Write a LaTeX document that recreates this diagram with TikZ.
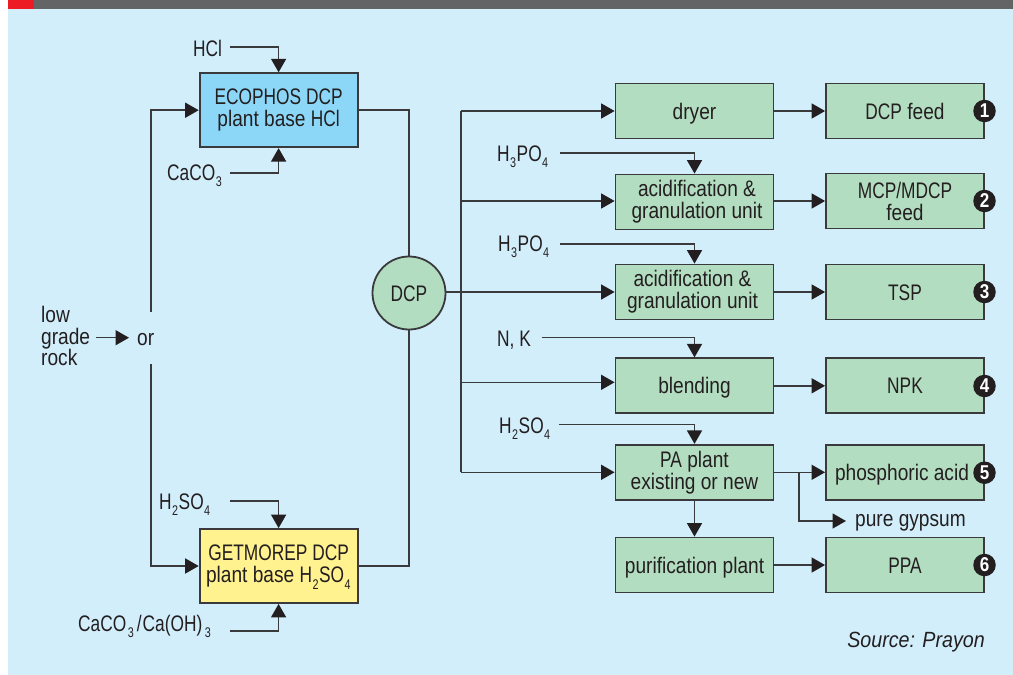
\documentclass[tikz,border=0pt]{standalone}
\usepackage{fontspec}
\setmainfont[FakeStretch=0.85]{Liberation Sans}
\newfontfamily\capsf[FakeStretch=0.77]{Liberation Sans}
\newfontfamily\srcf[FakeStretch=0.895]{Liberation Sans}
\usetikzlibrary{arrows.meta,calc}
\definecolor{bgblue}{HTML}{D2EEFB}
\definecolor{barGrey}{HTML}{636466}
\definecolor{barRed}{HTML}{ED1C24}
\definecolor{boxGreen}{HTML}{B3DDC0}
\definecolor{boxBlue}{HTML}{8CD7F8}
\definecolor{boxYellow}{HTML}{FFF28F}
\definecolor{ink}{HTML}{231F20}
\definecolor{edge}{HTML}{3A3A3C}
\newcommand{\sbs}[1]{\raisebox{-6.5pt}[0pt][0pt]{\fontsize{14}{14}\selectfont\kern0.5pt #1\kern0.5pt}}
\newcommand{\U}[1]{{\capsf #1}}
\tikzset{
  x=1pt,y=-1pt,
  every node/.style={font=\fontsize{22.5}{22}\selectfont,text=ink,inner sep=0pt},
  proc/.style={draw=edge,line width=1.8pt,minimum width=158pt,minimum height=55pt,align=center,fill=boxGreen,anchor=center},
  oneline/.style={proc,text height=16pt,text depth=0pt},
  plantbox/.style={proc,minimum height=74pt},
  badge/.style={circle,fill=ink,minimum size=22.5pt,font=\fontsize{20}{20}\bfseries\selectfont,text=white},
  lbl/.style={anchor=base west},
  conn/.style={draw=edge,line width=1.5pt},
  arr/.style={conn,-{Triangle[length=13.5pt,width=15pt,color=ink]}},
}
\begin{document}
\begin{tikzpicture}
\useasboundingbox (0,0) rectangle (1013,675);
\fill[white] (0,0) rectangle (1013,675);
\fill[bgblue] (8,9) rectangle (1013,675);
\fill[barGrey] (34,0) rectangle (1013,9);
\fill[barRed] (8,0) rectangle (34,9);

% plants
\node[plantbox,fill=boxBlue] (eco) at (278.6,110.2) {\U{ECOPHOS DCP}\\plant base \U{HCl}};
\node[plantbox,fill=boxYellow] (get) at (278.6,566) {\U{GETMOREP DCP}\\plant base \U{H\sbs{2}SO\sbs{4}}};
\node[circle,draw=edge,line width=1.8pt,fill=boxGreen,minimum size=73pt,text height=16pt,text depth=0pt] (dcp) at (409,293) {\U{DCP}};

% first column
\node[oneline] (dryer) at (694.5,111) {dryer};
\node[proc] (acidA) at (694.5,202) {\hspace*{5pt}acidification \&\\\hspace*{5pt}granulation unit};
\node[proc] (acidB) at (694.5,292) {acidification \&\hspace*{4pt}\\granulation unit\hspace*{4pt}};
\node[oneline] (blend) at (694.5,385.8) {blending};
\node[proc] (pa) at (694.5,472.3) {\U{PA} plant\\existing or new};
\node[oneline] (puri) at (694.5,565) {purification plant};

% second column
\node[oneline] (dfeed) at (905,111) {\U{DCP} feed};
\node[proc] (mfeed) at (905,201) {\U{MCP/MDCP}\\feed};
\node[oneline] (tsp) at (905,292) {\U{TSP}};
\node[oneline] (npk) at (905,385.8) {\U{NPK}};
\node[oneline] (phos) at (905,472.3) {\hspace*{-6pt}phosphoric acid};
\node[oneline] (ppa) at (905,565) {\U{PPA}};

% badges
\node[badge] (b1) at (984.5,111) {1};
\node[badge] (b2) at (984.5,201) {2};
\node[badge] (b3) at (984.5,292) {3};
\node[badge] (b4) at (984.5,386) {4};
\node[badge] (b5) at (984.5,472.7) {5};
\node[badge] (b6) at (984.5,565) {6};

% labels
\node[lbl] (hcl) at (193,56) {\U{HCl}};
\node[lbl] (caco) at (167,180) {\U{CaCO\sbs{3}}};
\node[lbl] (hso) at (159,509) {\U{H\sbs{2}SO\sbs{4}}};
\node[lbl] (cacoh) at (78,631) {\U{CaCO\kern1pt\sbs{3}\kern2.5pt/\kern1pt Ca(OH)\kern2pt\sbs{3}}};
\node[lbl] (rockA) at (41,322) {low};
\node[lbl] (rockB) at (41,344) {grade};
\node[lbl] (rockC) at (41,365) {rock};
\node[lbl] (or) at (137,345) {or};
\node[lbl] (hpa) at (497,161) {\U{H\sbs{3}PO\sbs{4}}};
\node[lbl] (hpb) at (498,251) {\U{H\sbs{3}PO\sbs{4}}};
\node[lbl] (nk) at (497,346) {\U{N, K}};
\node[lbl] (hsb) at (499,433) {\U{H\sbs{2}SO\sbs{4}}};
\node[lbl] (gyp) at (855,526) {pure gypsum};
\node[anchor=base east,font=\fontsize{22}{22}\srcf\itshape\selectfont] (src) at (985,647) {Source: Prayon};

% free ends
\coordinate (cHcl) at (230,47);
\coordinate (cCaco) at (230,173);
\coordinate (cHso) at (230,501);
\coordinate (cCacoh) at (230,631);
\coordinate (cHpa) at (560,153);
\coordinate (cHpb) at (560,244);
\coordinate (cNk) at (541.5,337.5);
\coordinate (cHsb) at (559,424.7);
\coordinate (cRock) at (96,337.7);
\coordinate (cOr) at (129,337.7);
\coordinate (cUp) at (151,312);
\coordinate (cDown) at (151,364);
\coordinate (busT) at (461,111);
\coordinate (busA) at (461,201);
\coordinate (busB) at (461,382.3);
\coordinate (busC) at (461,472.3);
\coordinate (split) at (799,472.3);
\coordinate (gypEnd) at (846,521);

% inputs to plants
\draw[arr] (cHcl) -| (eco.north);
\draw[arr] (cCaco) -| (eco.south);
\draw[arr] (cHso) -| (get.north);
\draw[arr] (cCacoh) -| (get.south);
\draw[arr] (cRock) -- (cOr);
\draw[arr] (cUp) |- (eco.west);
\draw[arr] (cDown) |- (get.west);
% plants to DCP
\draw[conn] (eco.east) -| (dcp.north);
\draw[conn] (get.east) -| (dcp.south);
% bus
\draw[conn] (busT) -- (busC);
\draw[arr] (busT) -- (dryer.west);
\draw[arr] (busA) -- (acidA.west |- busA);
\draw[arr] (dcp.east |- acidB.west) -- (acidB.west);
\draw[arr] (busB) -- (blend.west |- busB);
\draw[arr] (busC) -- (pa.west);
% acid feeds
\draw[arr] (cHpa) -| (acidA.north);
\draw[arr] (cHpb) -| (acidB.north);
\draw[arr] (cNk) -| (blend.north);
\draw[arr] (cHsb) -| (pa.north);
% first to second column
\draw[arr] (dryer) -- (dfeed);
\draw[arr] (acidA.east |- mfeed.west) -- (mfeed.west);
\draw[arr] (acidB) -- (tsp);
\draw[arr] (blend) -- (npk);
\draw[arr] (pa) -- (phos);
\draw[arr] (puri) -- (ppa);
\draw[arr] (pa) -- (puri);
\draw[arr] (split) |- (gypEnd);
\end{tikzpicture}
\end{document}
